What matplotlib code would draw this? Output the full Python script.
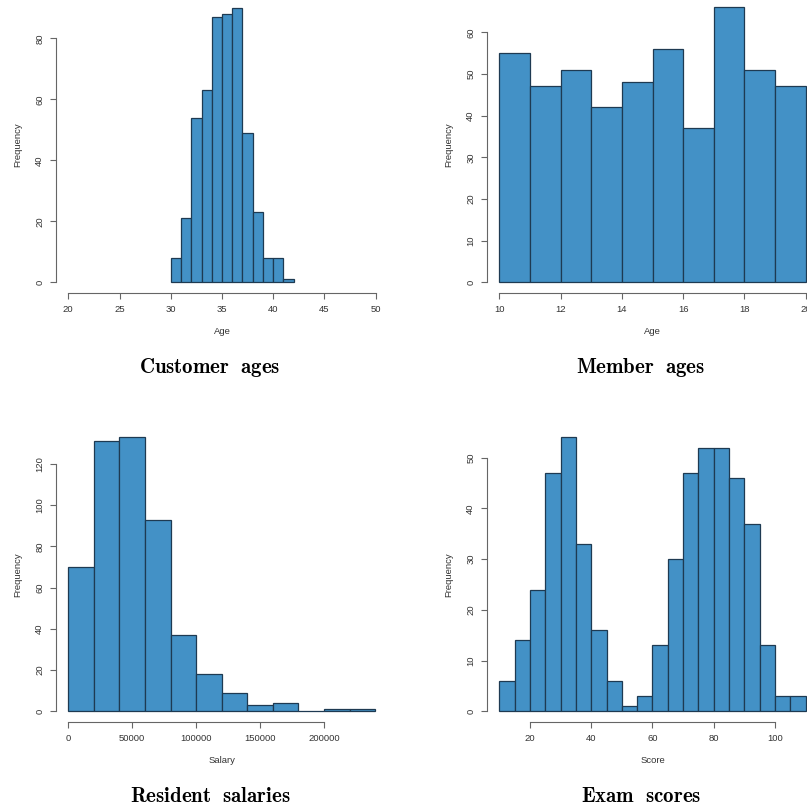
import numpy as np
import matplotlib
matplotlib.use("Agg")
import matplotlib.pyplot as plt

plt.rcParams["font.family"] = ["Liberation Sans", "DejaVu Sans"]
plt.rcParams["mathtext.fontset"] = "cm"

# histogram counts
cust_edges = np.arange(30, 43, 1)
cust_counts = [8, 21, 54, 63, 87, 88, 90, 49, 23, 8, 8, 1]

member_edges = np.arange(10, 21, 1)
member_counts = [55, 47, 51, 42, 48, 56, 37, 66, 51, 47]

salary_edges = np.arange(0, 240001, 20000)
salary_counts = [70, 131, 133, 93, 37, 18, 9, 3, 4, 0, 1, 1]

score_edges = np.arange(10, 111, 5)
score_counts = [6, 14, 24, 47, 54, 33, 16, 6, 1, 3, 13, 30, 47, 52, 52, 46, 37, 13, 3, 3]

W, H = 807, 805
fig = plt.figure(figsize=(W / 100, H / 100), dpi=100)

FILL = "#4391c6"
EDGE = "#1e3a52"
AXCOL = "#666666"
TXT = "#333333"


def r_hist(box, edges, counts, xlim, xticks, yticks, xlabel, fmt=None):
    # box = (left, top, right, bottom) in pixels of the plot region
    l, t, r, b = box
    ax = fig.add_axes([l / W, 1 - b / H, (r - l) / W, (b - t) / H])
    ax.bar(edges[:-1], counts, width=np.diff(edges), align="edge",
           color=FILL, edgecolor=EDGE, linewidth=0.9)
    # R style 4% padding
    dx = (xlim[1] - xlim[0]) * 0.04
    ymax = max(counts)
    ax.set_xlim(xlim[0] - dx, xlim[1] + dx)
    ax.set_ylim(-ymax * 0.04, ymax * 1.04)
    for s in ["top", "right"]:
        ax.spines[s].set_visible(False)
    for s in ["left", "bottom"]:
        ax.spines[s].set_color(AXCOL)
        ax.spines[s].set_linewidth(0.8)
    ax.spines["left"].set_bounds(yticks[0], yticks[-1])
    ax.spines["bottom"].set_bounds(xticks[0], xticks[-1])
    ax.set_xticks(xticks)
    ax.set_yticks(yticks)
    if fmt:
        ax.set_xticklabels([fmt(v) for v in xticks])
    ax.tick_params(length=4, width=0.8, color=AXCOL, labelcolor=TXT,
                   labelsize=6.8, pad=4.5)
    ax.tick_params(axis="y", labelrotation=90)
    for lab in ax.get_yticklabels():
        lab.set_va("center")
    ax.set_xlabel(xlabel, fontsize=6.8, color=TXT, labelpad=9.5)
    ax.set_ylabel("Frequency", fontsize=6.8, color=TXT, labelpad=9.5)
    ax.patch.set_alpha(0)
    return ax


r_hist((56.0, -3.2, 388.0, 293.3), cust_edges, cust_counts, (20, 50),
       [20, 25, 30, 35, 40, 45, 50], [0, 20, 40, 60, 80], "Age")
r_hist((487.1, -3.7, 817.9, 293.3), member_edges, member_counts, (10, 20),
       [10, 12, 14, 16, 18, 20], [0, 10, 20, 30, 40, 50, 60], "Age")
r_hist((56.0, 426.2, 387.4, 722.3), salary_edges, salary_counts, (0, 240000),
       [0, 50000, 100000, 150000, 200000], [0, 20, 40, 60, 80, 100, 120],
       "Salary", fmt=lambda v: str(int(v)))
r_hist((487.1, 426.4, 817.9, 722.3), score_edges, score_counts, (10, 110),
       [20, 40, 60, 80, 100], [0, 10, 20, 30, 40, 50], "Score")

titles = [("Customer\\ \\ ages", 210, 373.0), ("Member\\ \\ ages", 640.8, 373.0),
          ("Resident\\ \\ salaries", 210.2, 802.0), ("Exam\\ \\ scores", 640.8, 802.0)]
for txt, x, y in titles:
    fig.text(x / W, 1 - y / H, r"$\mathbf{" + txt + "}$", fontsize=15,
             ha="center", va="baseline", color="black")

fig.savefig("out.png", dpi=100)
